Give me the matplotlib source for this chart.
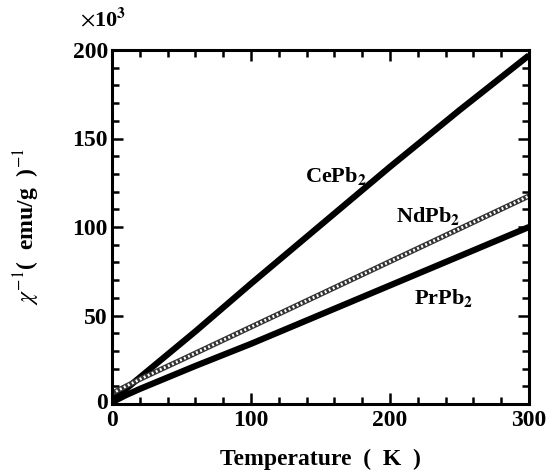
import numpy as np
import matplotlib.pyplot as plt
import matplotlib.transforms as mtransforms

# inverse susceptibility (x10^3)
temp_ce = [0, 10, 20, 30, 40, 50, 60, 100, 150, 200, 250, 300]
chi_ce = [2, 8.5, 15, 21.5, 28, 34.5, 41, 68, 101, 134, 166, 197]

temp_nd = [0, 5, 10, 20, 50, 100, 150, 200, 250, 300]
chi_nd = [6, 8, 10, 14, 25, 43.5, 62, 80.5, 99, 117.5]

temp_pr = [0, 10, 20, 40, 60, 100, 150, 200, 250, 300]
chi_pr = [1, 5, 8.5, 15, 21.5, 34, 50.5, 67, 83.5, 100]

labels = [r"CePb$_\mathbf{2}$", r"NdPb$_\mathbf{2}$", r"PrPb$_\mathbf{2}$"]
label_pos = [(139, 129), (204, 106), (217, 60)]

plt.rcParams['font.family'] = ['Liberation Serif', 'DejaVu Serif']
plt.rcParams['mathtext.fontset'] = 'stix'

W, H = 549, 472
fig = plt.figure(figsize=(W / 100, H / 100), dpi=100)
ax = fig.add_axes([112 / W, 1 - 404 / H, 417 / W, 354 / H])

ax.plot(temp_ce, chi_ce, color='black', lw=4.5, solid_capstyle='butt')
ax.plot(temp_pr, chi_pr, color='black', lw=4.5, solid_capstyle='butt')
# NdPb2 drawn as a striped rope
ax.plot(temp_nd, chi_nd, color='#333333', lw=3.8)
ax.plot(temp_nd, chi_nd, color='white', lw=2.0, linestyle=(0, (0.7, 0.9)))

for txt, (x, y) in zip(labels, label_pos):
    ax.text(x, y, txt, fontsize=16, fontweight='bold', ha='left', va='center')

ax.set_xlim(0, 300)
ax.set_ylim(0, 200)
ax.set_xticks([0, 100, 200, 300])
ax.set_xticks(np.arange(0, 301, 20), minor=True)
ax.set_yticks([0, 50, 100, 150, 200])
ax.set_yticks(np.arange(0, 201, 10), minor=True)
ax.tick_params(which='both', direction='in', top=True, right=True, width=1.8)
ax.tick_params(which='major', length=8, labelsize=17)
ax.tick_params(axis='x', which='major', pad=4)
ax.tick_params(axis='y', which='major', pad=3)
ax.tick_params(which='minor', length=5)
for lab in ax.get_xticklabels() + ax.get_yticklabels():
    lab.set_fontweight('bold')
# nudge the y "0" up a few pixels so it clears the x "0"
y0 = ax.get_yticklabels()[0]
y0.set_transform(y0.get_transform() + mtransforms.ScaledTranslation(0, 3 / 100, fig.dpi_scale_trans))
for sp in ax.spines.values():
    sp.set_linewidth(2.2)

ax.set_xlabel("Temperature  (  K  )", fontsize=17, fontweight='bold', labelpad=13)
ax.set_ylabel(r"$\chi^{-1}$(  emu/g  )$^{-1}$", fontsize=17, fontweight='bold', labelpad=22)
fig.text(80 / W, 1 - 20 / H, r"$\times$10$^\mathbf{3}$", fontsize=16, fontweight='bold', ha='left', va='center')

fig.savefig("out.png", dpi=100)
